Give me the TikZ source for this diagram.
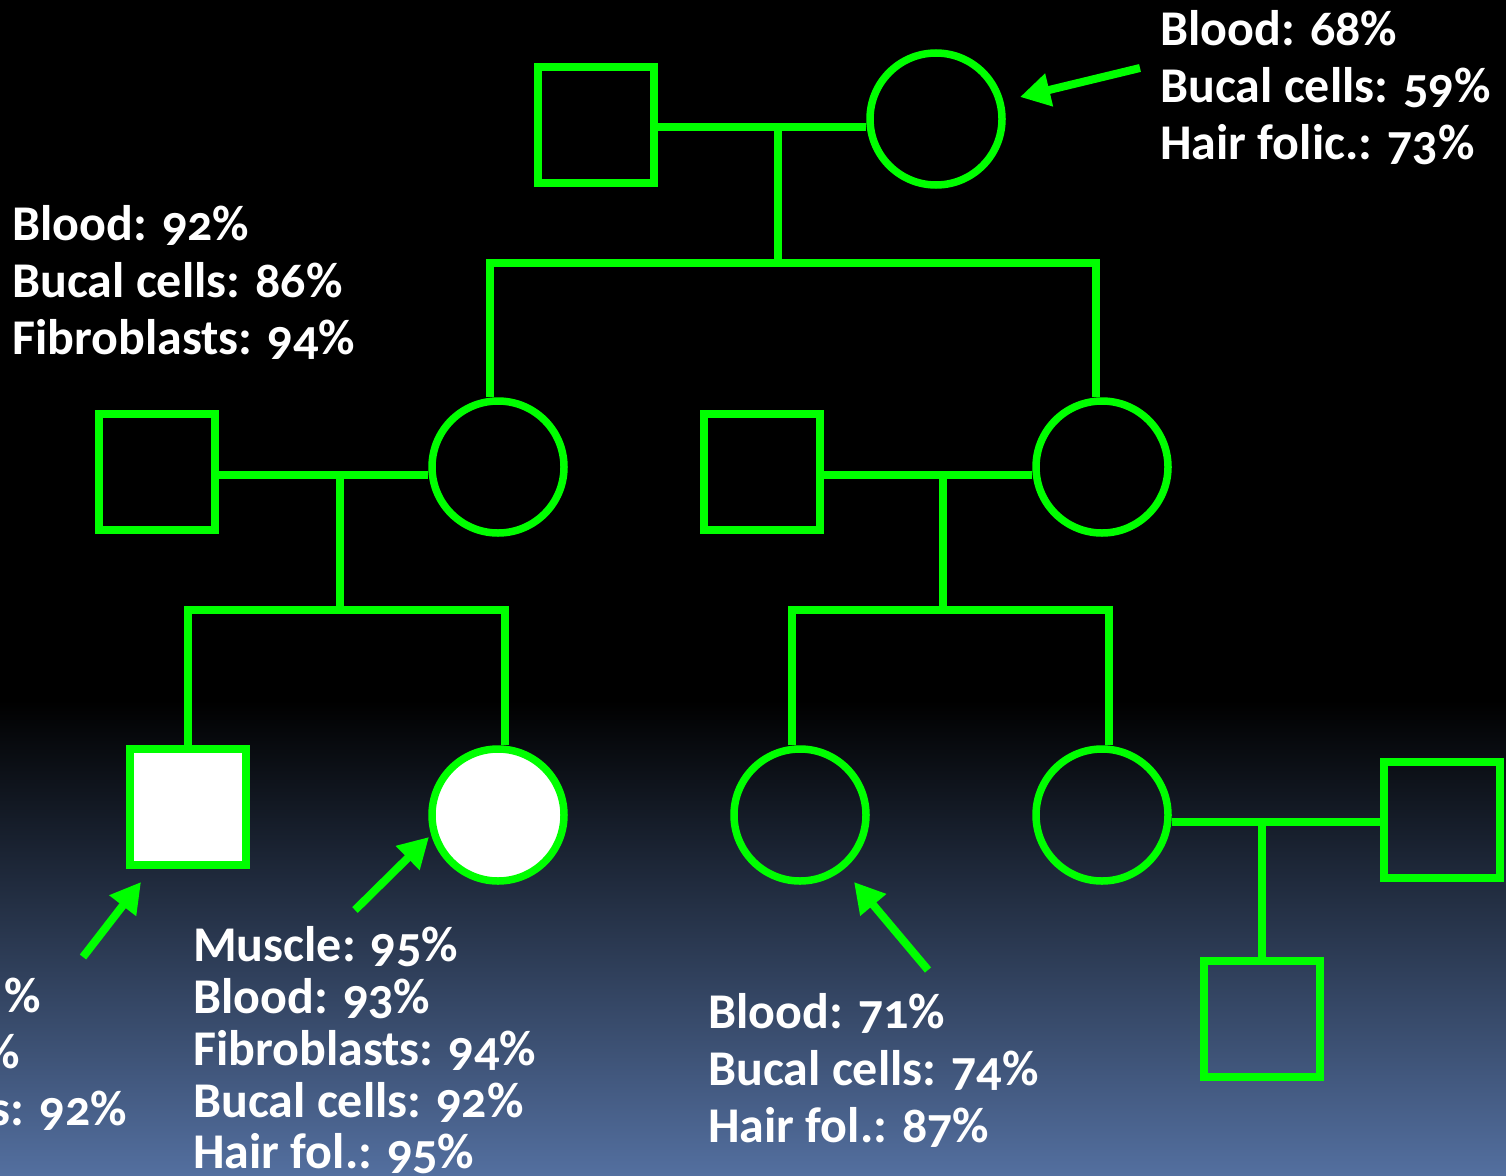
\documentclass[tikz,border=0pt]{standalone}
\usepackage{fontspec}
\setmainfont{Carlito}[Numbers=OldStyle]
\usetikzlibrary{arrows.meta}
\definecolor{pgreen}{RGB}{0,255,0}
\definecolor{bgblue}{HTML}{536F9F}
\begin{document}
\begin{tikzpicture}[x=1pt,y=-1pt,
  line/.style={draw=pgreen,line width=7.5pt},
  male/.style={draw=pgreen,line width=7.5pt,rectangle,minimum size=116pt,inner sep=0pt},
  female/.style={draw=pgreen,line width=7.5pt,circle,minimum size=132pt,inner sep=0pt},
  lbl/.style={text=white,font=\fontsize{50}{57}\selectfont\bfseries,inner sep=0pt,anchor=base west},
  lblr/.style={lbl,anchor=base east},
  arr/.style={draw=pgreen,line width=8pt,-{Triangle[length=30pt,width=32pt]}}
]
\useasboundingbox (0,0) rectangle (1506,1175);
\clip (0,0) rectangle (1506,1175);
\fill[black] (0,0) rectangle (1506,1175);
\shade[top color=black,bottom color=bgblue] (0,700) rectangle (1506,1175);

% individuals
\node[male] (f1) at (596,125) {};
\node[female] (m1) at (936,119) {};
\node[male] (h2a) at (157,472) {};
\node[female] (d2a) at (498,467) {};
\node[male] (h2b) at (762,472) {};
\node[female] (d2b) at (1102,467) {};
\node[male,fill=white] (s3a) at (188,807) {};
\node[female,fill=white] (d3a) at (498,815) {};
\node[female] (d3b) at (800,815) {};
\node[female] (d3c) at (1102,815) {};
\node[male] (h3c) at (1442,820) {};
\node[male] (s4) at (1262,1019) {};

% junctions
\coordinate (j1) at (778,127);
\coordinate (k1) at (778,263);
\coordinate (k1L) at (490,263);
\coordinate (k1R) at (1096,263);
\coordinate (j2a) at (340,475);
\coordinate (k2a) at (340,610);
\coordinate (k2aR) at (505,610);
\coordinate (j2b) at (943,475);
\coordinate (k2b) at (943,610);
\coordinate (k2bL) at (792,610);
\coordinate (k2bR) at (1109,610);
\coordinate (j3) at (1262,822);

% generation 1
\draw[line] (f1.east |- j1) -- (m1.west |- j1);
\draw[line] (j1) -- (k1);
\draw[line] (k1L |- d2a.north) -- (k1L) -- (k1R) -- (k1R |- d2b.north);
% generation 2 left
\draw[line] (h2a.east |- j2a) -- (d2a.west |- j2a);
\draw[line] (j2a) -- (k2a);
\draw[line] (s3a.north) |- (k2aR) -- (k2aR |- d3a.north);
% generation 2 right
\draw[line] (h2b.east |- j2b) -- (d2b.west |- j2b);
\draw[line] (j2b) -- (k2b);
\draw[line] (k2bL |- d3b.north) -- (k2bL) -- (k2bR) -- (k2bR |- d3c.north);
% generation 3 right
\draw[line] (d3c.east |- j3) -- (h3c.west |- j3);
\draw[line] (j3) -- (s4.north);

% arrows
\coordinate (a1s) at (1140,68);  \coordinate (a1e) at (1020,97);
\coordinate (a2s) at (83,957);   \coordinate (a2e) at (141,882);
\coordinate (a3s) at (355,910);  \coordinate (a3e) at (429,837);
\coordinate (a4s) at (928,970);  \coordinate (a4e) at (854,882);
\draw[arr] (a1s) -- (a1e);
\draw[arr] (a2s) -- (a2e);
\draw[arr] (a3s) -- (a3e);
\draw[arr] (a4s) -- (a4e);

% labels top right
\node[lbl] (tr1) at (1160,45) {Blood: 68\%};
\node[lbl] (tr2) at (1160,102) {Bucal cells: 59\%};
\node[lbl] (tr3) at (1160,159) {Hair folic.: 73\%};
% labels left
\node[lbl] (l1) at (12,240) {Blood: 92\%};
\node[lbl] (l2) at (12,297) {Bucal cells: 86\%};
\node[lbl] (l3) at (12,354) {Fibroblasts: 94\%};
% labels bottom middle
\node[lbl] (bm1) at (193,961) {Muscle: 95\%};
\node[lbl] (bm2) at (193,1013) {Blood: 93\%};
\node[lbl] (bm3) at (193,1065) {Fibroblasts: 94\%};
\node[lbl] (bm4) at (193,1117) {Bucal cells: 92\%};
\node[lbl] (bm5) at (193,1168) {Hair fol.: 95\%};
% labels bottom right
\node[lbl] (br1) at (708,1028) {Blood: 71\%};
\node[lbl] (br2) at (708,1085) {Bucal cells: 74\%};
\node[lbl] (br3) at (708,1142) {Hair fol.: 87\%};
% labels bottom left (cut off by the edge, as in the reference)
\node[lblr] (bl1) at (41,1012) {\%};
\node[lblr] (bl2) at (20,1068) {\%};
\node[lblr] (bl3) at (127,1125) {s: 92\%};
\end{tikzpicture}
\end{document}
